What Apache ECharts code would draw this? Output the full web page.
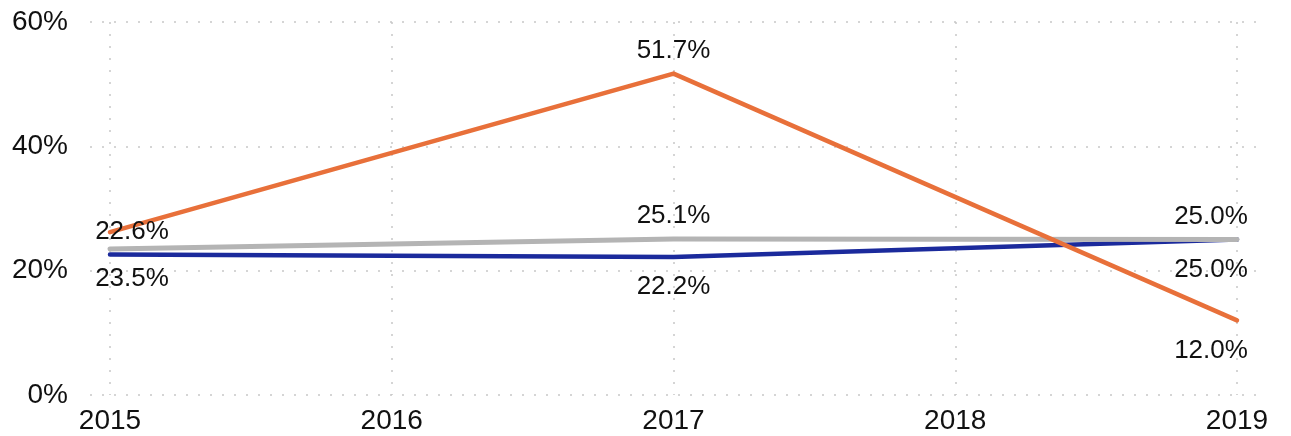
<!DOCTYPE html>
<html>
<head>
<meta charset="utf-8">
<style>
  html, body { margin: 0; padding: 0; background: #fff; }
  #chart { width: 1291px; height: 436px; }
</style>
<script src="https://cdn.jsdelivr.net/npm/echarts@6/dist/echarts.min.js"></script>
</head>
<body>
<div id="chart"></div>
<script>
// 数据
const years = ['2015', '2016', '2017', '2018', '2019'];
const orangeVals = [26.2, null, 51.7, null, 12.0];
const greyVals = [23.5, null, 25.1, null, 25.0];
const blueVals = [22.6, null, 22.2, null, 25.0];
const yTicks = [0, 20, 40, 60];

const FONT = '"Liberation Sans", Arial, sans-serif';
const gridLine = { color: '#c8c8c8', width: 1.5, type: [2, 10] };

// 每个点的标签位置（top / bottom / 不显示），两端的标签往里收
function withLabels(values, places) {
    const last = values.length - 1;
    return values.map(function (v, i) {
        if (v === null) return null;
        const p = places[i];
        if (!p) return { value: v, label: { show: false } };
        let dx = 0;
        if (i === 0) dx = 22;
        if (i === last) dx = -26;
        return {
            value: v,
            label: { show: true, position: p, distance: p === 'top' ? 10 : 17, offset: [dx, 0] }
        };
    });
}

function makeLine(name, color, width, data) {
    return {
        name: name,
        type: 'line',
        xAxisIndex: 1,
        yAxisIndex: 1,
        data: data,
        connectNulls: true,
        symbol: 'circle',
        symbolSize: 0,
        lineStyle: { color: color, width: width, cap: 'round', join: 'round' },
        itemStyle: { color: color },
        label: {
            show: true,
            color: '#111',
            fontSize: 26,
            fontFamily: FONT,
            formatter: function (p) { return p.value.toFixed(1) + '%'; }
        },
        emphasis: { disabled: true }
    };
}

const chart = echarts.init(document.getElementById('chart'));
const option = {
    animation: false,
    grid: [
        { left: 90, right: 34, top: 22, bottom: 41 },   // 横向网格线
        { left: 110, right: 54, top: 22, bottom: 41 }   // 折线
    ],
    xAxis: [
        { type: 'value', gridIndex: 0, show: false, min: 0, max: 1 },
        {
            type: 'category',
            gridIndex: 1,
            data: years,
            boundaryGap: false,
            axisLine: { show: false },
            axisTick: { show: false },
            axisLabel: { fontSize: 28, color: '#111', fontFamily: FONT, margin: 12 },
            splitLine: { show: true, lineStyle: gridLine }
        }
    ],
    yAxis: [
        {
            type: 'value',
            gridIndex: 0,
            min: yTicks[0],
            max: yTicks[yTicks.length - 1],
            interval: 20,
            axisLine: { show: false },
            axisTick: { show: false },
            axisLabel: { fontSize: 28, color: '#111', fontFamily: FONT, margin: 22, formatter: '{value}%' },
            splitLine: { show: true, lineStyle: gridLine }
        },
        { type: 'value', gridIndex: 1, min: 0, max: 60, show: false }
    ],
    series: [
        makeLine('blue', '#1b2a9c', 4.5, withLabels(blueVals, ['top', null, 'bottom', null, 'bottom'])),
        makeLine('grey', '#b4b4b4', 5, withLabels(greyVals, ['bottom', null, 'top', null, 'top'])),
        makeLine('orange', '#e8703a', 4.5, withLabels(orangeVals, [null, null, 'top', null, 'bottom']))
    ]
};
chart.setOption(option);
</script>
</body>
</html>
